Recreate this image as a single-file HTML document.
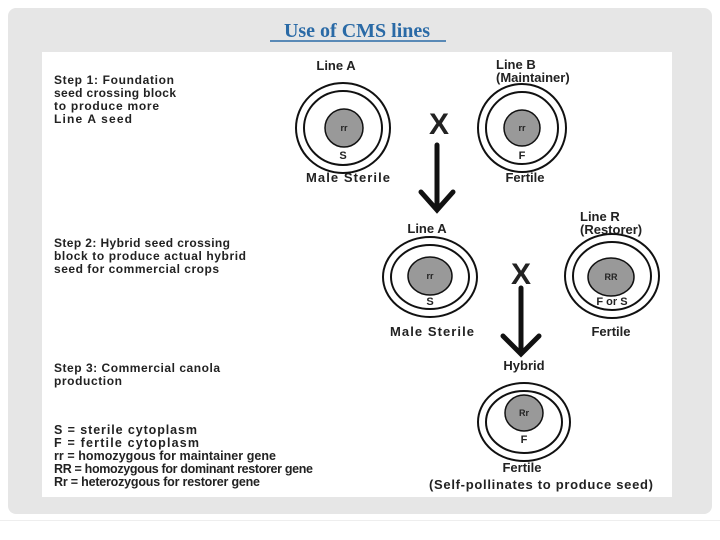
<!DOCTYPE html>
<html><head><style>
html,body{margin:0;padding:0;background:#fff;}
body{width:720px;height:540px;position:relative;overflow:hidden;}
.panel{position:absolute;left:8px;top:8px;width:704px;height:506px;background:#e6e6e6;border-radius:8px;}
.line{position:absolute;left:0;top:520px;width:720px;height:1px;background:#eee;}
</style></head><body>
<div class="panel"></div>
<div class="line"></div>
<svg width="720" height="540" style="position:absolute;left:0;top:0" font-family="Liberation Sans, sans-serif">
<text x="357" y="37" text-anchor="middle" font-family="Liberation Serif, serif" font-weight="bold" font-size="20" fill="#2a6aa6">Use of CMS lines</text>
<line x1="270" y1="41" x2="446" y2="41" stroke="#2a6aa6" stroke-width="1.5"/>
<rect x="42" y="52" width="630" height="445" fill="#fff"/>
<g font-size="12" font-weight="bold" fill="#222">
<text x="54" y="84" textLength="120">Step 1: Foundation</text>
<text x="54" y="97" textLength="122">seed crossing block</text>
<text x="54" y="110" textLength="105">to produce more</text>
<text x="54" y="123" textLength="78">Line A seed</text>
<text x="54" y="247" textLength="176">Step 2: Hybrid seed crossing</text>
<text x="54" y="260" textLength="192">block to produce actual hybrid</text>
<text x="54" y="273" textLength="165">seed for commercial crops</text>
<text x="54" y="372" textLength="166">Step 3: Commercial canola</text>
<text x="54" y="385" textLength="68">production</text>
<g font-size="12.5">
<text x="54" y="434" textLength="143">S = sterile cytoplasm</text>
<text x="54" y="447" textLength="145">F = fertile cytoplasm</text>
<text x="54" y="460" textLength="222">rr = homozygous for maintainer gene</text>
<text x="54" y="473" textLength="259">RR = homozygous for dominant restorer gene</text>
<text x="54" y="486" textLength="259" style="display:none"></text>
<text x="54" y="486" textLength="206">Rr = heterozygous for restorer gene</text>
</g>
<g font-size="13">
<text x="336" y="70" text-anchor="middle">Line A</text>
<text x="496" y="69">Line B</text>
<text x="496" y="82">(Maintainer)</text>
<text x="348" y="182" text-anchor="middle" textLength="84">Male Sterile</text>
<text x="525" y="182" text-anchor="middle">Fertile</text>
<text x="427" y="233" text-anchor="middle">Line A</text>
<text x="580" y="221">Line R</text>
<text x="580" y="234">(Restorer)</text>
<text x="432" y="336" text-anchor="middle" textLength="84">Male Sterile</text>
<text x="611" y="336" text-anchor="middle">Fertile</text>
<text x="524" y="370" text-anchor="middle">Hybrid</text>
<text x="522" y="472" text-anchor="middle">Fertile</text>
<text x="541" y="489" text-anchor="middle" textLength="224">(Self-pollinates to produce seed)</text>
</g>
<text x="439" y="134" text-anchor="middle" font-size="30">X</text>
<text x="521" y="284" text-anchor="middle" font-size="30">X</text>
</g>
<g stroke="#111" fill="none" stroke-width="2">
<ellipse cx="343" cy="128" rx="47" ry="45"/><ellipse cx="343" cy="128" rx="39" ry="37"/>
<ellipse cx="522" cy="128" rx="44" ry="44"/><ellipse cx="522" cy="128" rx="36" ry="36"/>
<ellipse cx="430" cy="277" rx="47" ry="40"/><ellipse cx="430" cy="277" rx="39" ry="32"/>
<ellipse cx="612" cy="276" rx="47" ry="42"/><ellipse cx="612" cy="276" rx="39" ry="34"/>
<ellipse cx="524" cy="422" rx="46" ry="39"/><ellipse cx="524" cy="422" rx="38" ry="31"/>
</g>
<g fill="#999" stroke="#111" stroke-width="1.5">
<circle cx="344" cy="128" r="19"/><circle cx="522" cy="128" r="18"/>
<ellipse cx="430" cy="276" rx="22" ry="19"/><ellipse cx="611" cy="277" rx="23" ry="19"/>
<ellipse cx="524" cy="413" rx="19" ry="18"/>
</g>
<g font-size="9" font-weight="bold" fill="#222" text-anchor="middle">
<text x="344" y="131">rr</text><text x="522" y="131">rr</text><text x="430" y="279">rr</text>
<text x="611" y="280">RR</text><text x="524" y="416">Rr</text>
<text x="343" y="159" font-size="11">S</text><text x="522" y="159" font-size="11">F</text>
<text x="430" y="305" font-size="11">S</text><text x="612" y="305" font-size="11">F or S</text>
<text x="524" y="443" font-size="11">F</text>
</g>
<g stroke="#111" stroke-width="5" fill="none" stroke-linecap="round">
<line x1="437" y1="145" x2="437" y2="208"/>
<polyline points="421,192 437,210 453,192"/>
<line x1="521" y1="288" x2="521" y2="352"/>
<polyline points="503,336 521,354 539,336"/>
</g>
</svg>
</body></html>
